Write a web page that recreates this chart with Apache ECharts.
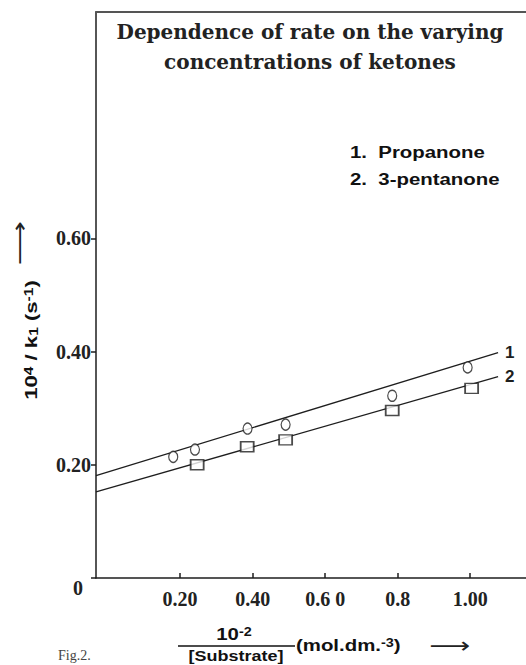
<!DOCTYPE html>
<html>
<head>
<meta charset="utf-8">
<script src="https://cdn.jsdelivr.net/npm/echarts@6/dist/echarts.min.js"></script>
<style>
  html, body { margin: 0; padding: 0; background: #fff; }
  #chart { width: 526px; height: 665px; }
</style>
</head>
<body>
<div id="chart"></div>
<script>
// values
var propanoneX = [0.181, 0.241, 0.386, 0.491, 0.785, 0.993];
var propanoneY = [0.214, 0.227, 0.264, 0.271, 0.322, 0.372];
var pentanoneX = [0.247, 0.385, 0.491, 0.785, 1.004];
var pentanoneY = [0.200, 0.232, 0.244, 0.296, 0.335];
// straight lines drawn through each set (end points)
var line1X = [-0.032, 1.077];
var line1Y = [0.181, 0.398];
var line2X = [-0.032, 1.077];
var line2Y = [0.152, 0.356];
// ticks
var xTickValues = [0.2, 0.4, 0.6, 0.8, 1.0];
var xTickLabels = ["0.20", "0.40", "0.6 0", "0.8", "1.00"];
var yTickValues = [0, 0.2, 0.4, 0.6];
var yTickLabels = ["0", "0.20", "0.40", "0.60"];

function zip(xs, ys) {
  return xs.map(function (x, i) { return [x, ys[i]]; });
}
function pickLabel(values, labels, v) {
  for (var i = 0; i < values.length; i++) {
    if (Math.abs(values[i] - v) < 1e-6) return labels[i];
  }
  return "";
}

var ink = "#1e1e1e";
var sans = "Liberation Sans, Arial, sans-serif";
var serif = "Liberation Serif, Times New Roman, serif";

function init_chart(container) {
  var chartDom = document.getElementById(container);
  var myChart = echarts.init(chartDom, null, { renderer: "svg" });
  var option;

  option = {
    animation: false,
    backgroundColor: "#fff",
    title: {
      text: "Dependence of rate on the varying\nconcentrations of ketones",
      left: 305,
      top: 12,
      textAlign: "center",
      textStyle: {
        fontFamily: "DejaVu Serif",
        fontWeight: "bold",
        fontSize: 20,
        lineHeight: 30,
        color: "#222",
      },
    },
    grid: {
      left: 96,
      right: 0,
      top: 12,
      bottom: 87,
    },
    xAxis: [
      {
        type: "value",
        min: -0.032,
        max: 1.154,
        axisLine: { show: true, onZero: false, lineStyle: { color: ink, width: 1.5 } },
        axisTick: {
          show: true,
          inside: true,
          length: 5,
          customValues: xTickValues,
          lineStyle: { color: ink, width: 1.5 },
        },
        axisLabel: {
          customValues: xTickValues,
          margin: 11,
          fontFamily: serif,
          fontWeight: "bold",
          fontSize: 20,
          color: "#222",
          formatter: function (v) { return pickLabel(xTickValues, xTickLabels, v); },
        },
        splitLine: { show: false },
      },
      {
        // top frame line
        type: "value",
        position: "top",
        min: -0.032,
        max: 1.154,
        axisLine: { show: true, onZero: false, lineStyle: { color: "#555", width: 2 } },
        axisTick: { show: false },
        axisLabel: { show: false },
        splitLine: { show: false },
      },
    ],
    yAxis: {
      type: "value",
      min: 0,
      max: 1.0,
      axisLine: { show: true, onZero: false, lineStyle: { color: ink, width: 1.5 } },
      axisTick: {
        show: true,
        length: 5,
        customValues: yTickValues,
        lineStyle: { color: ink, width: 1.5 },
      },
      axisLabel: {
        customValues: yTickValues,
        margin: 5,
        fontFamily: serif,
        fontWeight: "bold",
        fontSize: 20,
        color: "#222",
        formatter: function (v) {
          var s = pickLabel(yTickValues, yTickLabels, v);
          return v === 0 ? "{z|" + s + "}" : s;
        },
        rich: {
          z: {
            fontFamily: serif,
            fontWeight: "bold",
            fontSize: 20,
            color: "#222",
            padding: [20, 8, 0, 0],
          },
        },
      },
      splitLine: { show: false },
    },
    series: [
      {
        name: "Propanone line",
        type: "line",
        data: zip(line1X, line1Y),
        showSymbol: false,
        lineStyle: { color: ink, width: 1.3 },
        endLabel: {
          show: true,
          formatter: "1",
          distance: 7,
          fontFamily: sans,
          fontWeight: "bold",
          fontSize: 17,
          color: ink,
        },
        z: 2,
      },
      {
        name: "3-pentanone line",
        type: "line",
        data: zip(line2X, line2Y),
        showSymbol: false,
        lineStyle: { color: ink, width: 1.3 },
        endLabel: {
          show: true,
          formatter: "2",
          distance: 7,
          fontFamily: sans,
          fontWeight: "bold",
          fontSize: 17,
          color: ink,
        },
        z: 2,
      },
      {
        name: "Propanone",
        type: "scatter",
        data: zip(propanoneX, propanoneY),
        symbol: "circle",
        symbolSize: [9, 11],
        itemStyle: { color: "#fff", borderColor: ink, borderWidth: 1.3 },
        z: 3,
      },
      {
        name: "3-pentanone",
        type: "scatter",
        data: zip(pentanoneX, pentanoneY),
        symbol: "rect",
        symbolSize: [13, 10],
        itemStyle: { color: "#fff", borderColor: ink, borderWidth: 1.6 },
        z: 3,
      },
    ],
    graphic: [
      // legend text
      { type: "text", left: 350, top: 144, scaleX: 1.2,
        style: { text: "1.  Propanone", font: "bold 17px " + sans, fill: "#111" } },
      { type: "text", left: 350, top: 171, scaleX: 1.2,
        style: { text: "2.  3-pentanone", font: "bold 17px " + sans, fill: "#111" } },
      // y axis name
      {
        type: "text",
        x: 31,
        y: 340,
        rotation: Math.PI / 2,
        scaleX: 1.3,
        style: {
          text: "10{sup|4} / k{sub|1} (s{sup|-1})",
          font: "bold 17px " + sans,
          fill: "#111",
          align: "center",
          verticalAlign: "middle",
          rich: {
            sup: { font: "bold 12px " + sans, verticalAlign: "top", lineHeight: 12 },
            sub: { font: "bold 12px " + sans, verticalAlign: "bottom", lineHeight: 12 },
          },
        },
      },
      {
        type: "text",
        x: 19,
        y: 243,
        rotation: Math.PI / 2,
        scaleX: 1.4,
        style: { text: "\u27f6", font: "22px DejaVu Sans", fill: "#222", align: "center", verticalAlign: "middle" },
      },
      // x axis name
      {
        type: "text",
        x: 234,
        y: 634,
        scaleX: 1.2,
        style: {
          text: "10{sup|-2}",
          font: "bold 17px " + sans,
          fill: "#111",
          align: "center",
          verticalAlign: "middle",
          rich: { sup: { font: "bold 12px " + sans, verticalAlign: "top", lineHeight: 12 } },
        },
      },
      {
        type: "line",
        shape: { x1: 178, y1: 646, x2: 295, y2: 646 },
        style: { stroke: "#111", lineWidth: 1.5 },
      },
      {
        type: "text",
        x: 236,
        y: 656,
        scaleX: 1.2,
        style: { text: "[Substrate]", font: "bold 15px " + sans, fill: "#111", align: "center", verticalAlign: "middle" },
      },
      {
        type: "text",
        x: 296,
        y: 645,
        scaleX: 1.2,
        style: {
          text: "(mol.dm.{sup|-3})",
          font: "bold 17px " + sans,
          fill: "#111",
          align: "left",
          verticalAlign: "middle",
          rich: { sup: { font: "bold 12px " + sans, verticalAlign: "top", lineHeight: 12 } },
        },
      },
      {
        type: "text",
        x: 450,
        y: 645,
        scaleX: 1.3,
        style: { text: "\u27f6", font: "22px DejaVu Sans", fill: "#222", align: "center", verticalAlign: "middle" },
      },
      {
        type: "text",
        x: 58,
        y: 655,
        style: { text: "Fig.2.", font: "14px " + serif, fill: "#444", align: "left", verticalAlign: "middle" },
      },
    ],
  };

  option && myChart.setOption(option);
  window.addEventListener("resize", function () {
    myChart.resize();
  });
}

init_chart("chart");
</script>
</body>
</html>
